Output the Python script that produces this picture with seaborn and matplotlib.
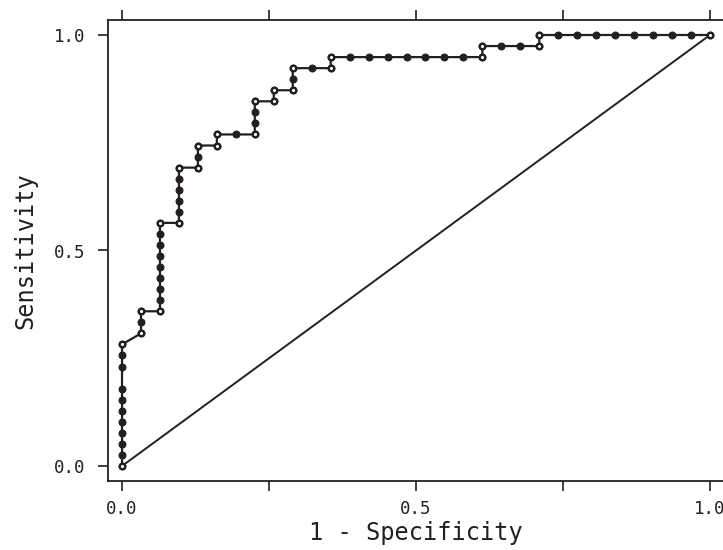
import matplotlib
matplotlib.use("Agg")
import matplotlib.pyplot as plt
import numpy as np
import pandas as pd
import seaborn as sns

# ROC points, as counts of negatives / positives
n_neg = 31
n_pos = 39
neg_count = [0, 0, 0, 0, 0, 0, 0, 0, 0, 0, 0,
             1, 1, 1,
             2, 2, 2, 2, 2, 2, 2, 2, 2,
             3, 3, 3, 3, 3, 3,
             4, 4, 4,
             5, 5,
             6,
             7, 7, 7, 7,
             8, 8,
             9, 9, 9,
             10,
             11, 11,
             12, 13, 14, 15, 16, 17, 18,
             19, 19,
             20, 21,
             22, 22,
             23, 24, 25, 26, 27, 28, 29, 30, 31]
pos_count = [0, 1, 2, 3, 4, 5, 6, 7, 9, 10, 11,
             12, 13, 14,
             14, 15, 16, 17, 18, 19, 20, 21, 22,
             22, 23, 24, 25, 26, 27,
             27, 28, 29,
             29, 30,
             30,
             30, 31, 32, 33,
             33, 34,
             34, 35, 36,
             36,
             36, 37,
             37, 37, 37, 37, 37, 37, 37,
             37, 38,
             38, 38,
             38, 39,
             39, 39, 39, 39, 39, 39, 39, 39, 39]
ref_line = [0.0, 1.0]
x_ticks = [0.0, 0.25, 0.5, 0.75, 1.0]
x_labels = ["0.0", "", "0.5", "", "1.0"]
y_ticks = [0.0, 0.5, 1.0]
y_labels = ["0.0", "0.5", "1.0"]

df = pd.DataFrame({"fpr": np.array(neg_count) / n_neg,
                   "tpr": np.array(pos_count) / n_pos})

# points where the curve changes direction get an open marker
dx = np.sign(np.diff(neg_count))
dy = np.sign(np.diff(pos_count))
turn = np.r_[True, (dx[1:] != dx[:-1]) | (dy[1:] != dy[:-1]), True]
corners = df[turn]

sns.set_style("ticks")
plt.rcParams["font.family"] = ["DejaVu Sans Mono", "DejaVu Sans"]
ink = "#231f20"

fig = plt.figure(figsize=(7.23, 5.5), dpi=100)
ax = fig.add_axes([107.5 / 723, 69 / 550, 617 / 723, 461 / 550])

sns.lineplot(x=ref_line, y=ref_line, ax=ax, color=ink, linewidth=1.4)
sns.lineplot(data=df, x="fpr", y="tpr", ax=ax, sort=False, estimator=None,
             color=ink, linewidth=1.6, marker="o", markersize=5,
             markeredgecolor=ink, markerfacecolor=ink)
sns.scatterplot(data=corners, x="fpr", y="tpr", ax=ax, s=15, color="white",
                edgecolor=ink, linewidth=1.6, zorder=5)

ax.set_xlim(-0.0247, 1.0247)
ax.set_ylim(-0.0348, 1.0348)

ax.set_xticks(x_ticks)
ax.set_xticklabels(x_labels)
ax.set_yticks(y_ticks)
ax.set_yticklabels(y_labels)
ax.tick_params(axis="x", which="both", bottom=True, top=True, direction="out",
               length=7, width=1.2, color=ink, labelsize=12.5, pad=7, labelcolor=ink)
ax.tick_params(axis="y", direction="out", length=7, width=1.2, color=ink,
               labelsize=12.5, pad=9, labelcolor=ink)
for s in ax.spines.values():
    s.set_color(ink)
    s.set_linewidth(1.3)

ax.set_xlabel("1 - Specificity", fontsize=17, color=ink, labelpad=2)
ax.set_ylabel("Sensitivity", fontsize=17, color=ink, labelpad=12)

fig.savefig("out.png", dpi=100)
